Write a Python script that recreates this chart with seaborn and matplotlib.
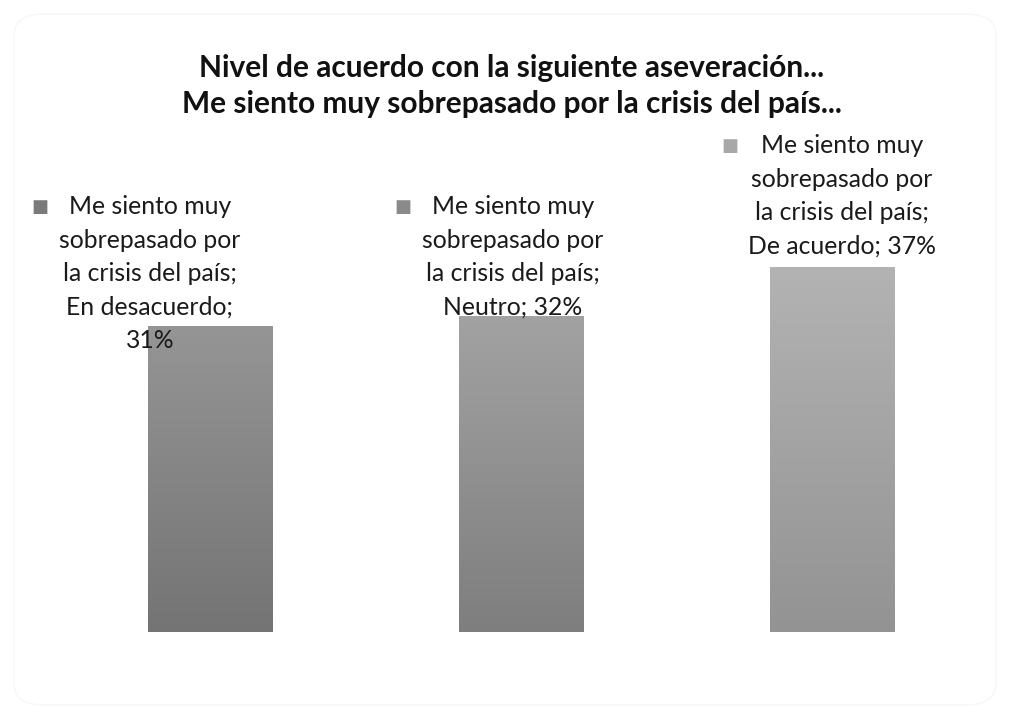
import textwrap
import numpy as np
import pandas as pd
import matplotlib
matplotlib.use("Agg")
import matplotlib.pyplot as plt
from matplotlib.colors import LinearSegmentedColormap
from matplotlib.patches import FancyBboxPatch
import seaborn as sns

# Survey data
series_name = "Me siento muy sobrepasado por la crisis del país"
categories = ["En desacuerdo", "Neutro", "De acuerdo"]
values = [31, 32, 37]

title_lines = [
    "Nivel de acuerdo con la siguiente aseveración...",
    "Me siento muy sobrepasado por la crisis del país...",
]

# Per-bar gradient colours (top, bottom) and legend-key colour
grad_top = ["#959595", "#a2a2a2", "#b3b3b3"]
grad_bottom = ["#747474", "#7e7e7e", "#939393"]
key_colors = ["#7a7a7a", "#8a8a8a", "#a8a8a8"]

# Label block placement relative to each bar top (pixels)
label_dx = [-60, -8, 10]
label_dy = [131, 121, 133]
key_dx = [-170, -118, -102]

sns.set_theme(style="white")
plt.rcParams["font.family"] = ["Lato", "DejaVu Sans"]

fig = plt.figure(figsize=(10.10, 7.19), dpi=100)
fig.patch.set_facecolor("white")

W, H = 1010, 719
# axes: x from 54.5px to 987.5px, baseline at y=632px (from top)
ax = fig.add_axes([54.5 / W, (H - 632) / H, 933 / W, 493 / H])

df = pd.DataFrame({"cat": categories, "val": values})
sns.barplot(data=df, x="cat", y="val", width=0.4, color="#888888",
            ax=ax, saturation=1, edgecolor="none")
ax.set_xlim(-0.5, 2.5)
ax.set_ylim(0, 50)
ax.axis("off")

# Vertical gradient inside every bar
for i, patch in enumerate(ax.patches):
    x0, y0 = patch.get_x(), patch.get_y()
    w, h = patch.get_width(), patch.get_height()
    cmap = LinearSegmentedColormap.from_list(
        f"g{i}", [grad_bottom[i], grad_top[i]])
    grad = np.linspace(0, 1, 256).reshape(-1, 1)
    im = ax.imshow(grad, cmap=cmap, origin="lower", aspect="auto",
                   extent=[x0, x0 + w, y0, y0 + h], zorder=patch.get_zorder() + 0.1)
    im.set_clip_path(patch)
    patch.set_facecolor("none")
ax.set_xlim(-0.5, 2.5)
ax.set_ylim(0, 50)

# Data labels with legend keys
name_lines = ["Me siento muy", "sobrepasado por", "la crisis del país;"]
for i, (cat, val) in enumerate(zip(categories, values)):
    tail = textwrap.fill(f"{cat}; {val}%", 16)
    text = "\n".join(name_lines) + "\n" + tail
    ax.annotate(text, xy=(i, val), xytext=(label_dx[i], label_dy[i]),
                textcoords="offset pixels", ha="center", va="top",
                fontsize=17.8, color="#1a1a1a", linespacing=1.55,
                zorder=5)
    ax.annotate("■", xy=(i, val), xytext=(key_dx[i], label_dy[i] - 12),
                textcoords="offset pixels", ha="center", va="center",
                fontsize=13, color=key_colors[i], family="DejaVu Sans",
                zorder=5)

# Title
fig.text(512 / W, 1 - 68 / H, title_lines[0], ha="center", va="center",
         fontsize=21.5, fontweight="bold", color="#111111")
fig.text(512 / W, 1 - 104 / H, title_lines[1], ha="center", va="center",
         fontsize=21.5, fontweight="bold", color="#111111")

# Faint rounded frame around the chart area
frame = FancyBboxPatch((14 / W, 14 / H), 982 / W, 691 / H,
                       boxstyle="round,pad=0,rounding_size=0.03",
                       transform=fig.transFigure, facecolor="none",
                       edgecolor="#f7f7f7", linewidth=1.0)
fig.patches.append(frame)

fig.savefig("out.png", dpi=100, facecolor="white")
